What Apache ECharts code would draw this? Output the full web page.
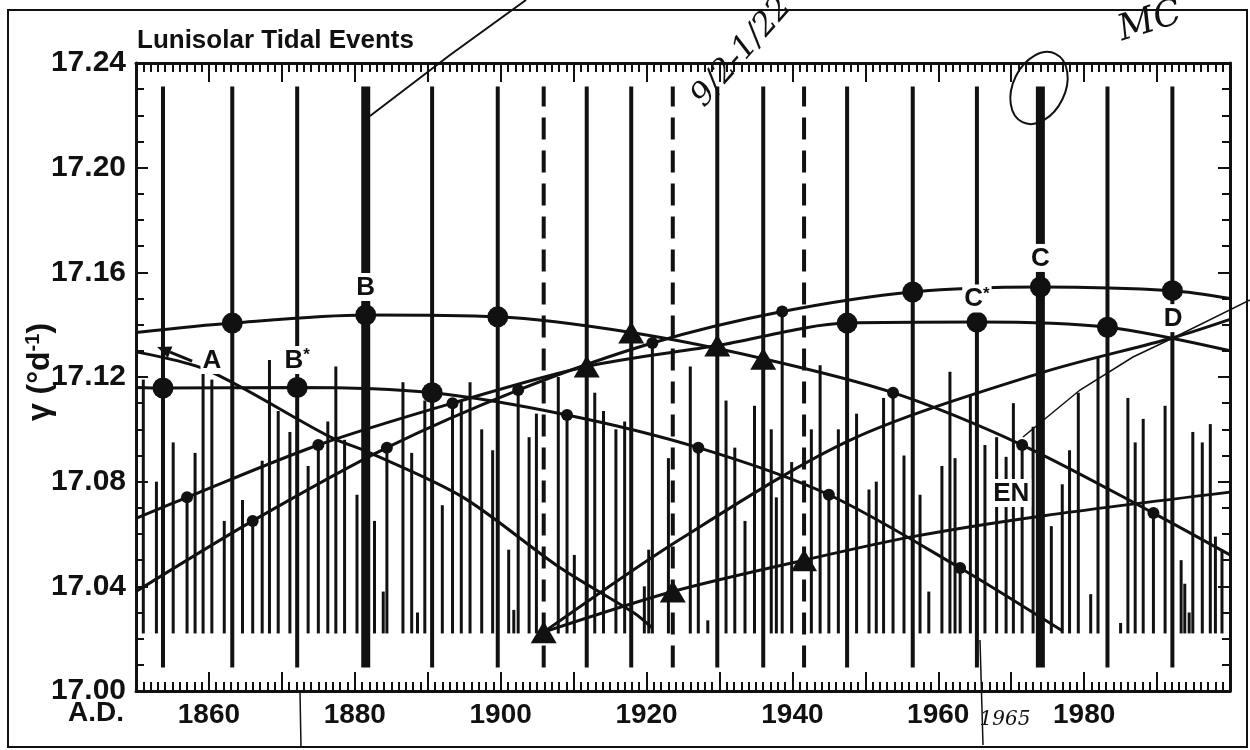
<!DOCTYPE html>
<html>
<head>
<meta charset="utf-8">
<title>Lunisolar Tidal Events</title>
<script src="https://cdn.jsdelivr.net/npm/echarts@6.0.0/dist/echarts.min.js"></script>
<style>
  html, body { margin: 0; padding: 0; background: #fff; }
  #chart { width: 1250px; height: 750px; }
</style>
</head>
<body>
<div id="chart"></div>
<script>
// ---- axis labelling -------------------------------------------------------
const yearLabels = [1860, 1880, 1900, 1920, 1940, 1960, 1980];

// ---- tidal events: [year A.D., gamma in deg/day] ---------------------------
// events of the comb (no symbol)
const combEvents = [
  [1851.0,17.119],[1852.8,17.080],[1855.1,17.095],[1858.1,17.091],[1859.2,17.122],
  [1860.4,17.119],[1862.1,17.065],[1864.6,17.073],[1867.3,17.088],[1868.3,17.1265],
  [1869.5,17.107],[1871.1,17.099],[1873.6,17.086],[1876.3,17.103],[1877.4,17.124],
  [1878.6,17.096],[1880.3,17.075],[1882.7,17.065],[1883.9,17.038],[1886.6,17.118],
  [1887.8,17.091],[1888.6,17.030],[1889.6,17.111],[1892.0,17.071],[1894.6,17.111],
  [1895.8,17.118],[1897.4,17.100],[1898.9,17.092],[1901.1,17.054],[1901.8,17.031],
  [1903.9,17.097],[1904.9,17.106],[1907.9,17.120],[1910.1,17.052],[1912.9,17.114],
  [1914.1,17.107],[1915.8,17.100],[1917.0,17.103],[1919.7,17.040],[1920.3,17.054],
  [1923.0,17.089],[1926.0,17.124],[1928.4,17.027],[1930.9,17.111],[1932.1,17.093],
  [1933.5,17.065],[1934.8,17.109],[1937.1,17.100],[1937.8,17.074],[1939.9,17.0875],
  [1942.6,17.100],[1943.8,17.1245],[1946.3,17.100],[1948.8,17.106],[1950.5,17.077],
  [1951.5,17.080],[1952.5,17.112],[1955.3,17.090],[1957.5,17.075],[1958.7,17.038],
  [1960.5,17.086],[1961.6,17.122],[1962.3,17.089],[1964.4,17.113],[1966.4,17.094],
  [1968.0,17.097],[1969.3,17.0895],[1970.3,17.110],[1973.0,17.101],[1975.5,17.063],
  [1977.0,17.079],[1978.0,17.092],[1979.2,17.114],[1980.9,17.037],[1981.9,17.1277],
  [1985.0,17.026],[1986.0,17.112],[1987.0,17.095],[1988.1,17.104],[1991.1,17.109],
  [1993.3,17.050],[1993.8,17.041],[1994.4,17.030],[1994.9,17.099],[1996.2,17.095],
  [1997.3,17.102],[1998.0,17.059],[1998.9,17.054]
];

// events marked with a small dot
const minorEvents = [
  [1857.0,17.074],[1875.0,17.094],[1893.4,17.110],
  [1866.0,17.065],[1884.4,17.093],[1902.4,17.115],[1920.8,17.133],[1938.6,17.145],
  [1909.1,17.1055],[1927.1,17.093],[1945.0,17.075],[1963.0,17.047],
  [1953.8,17.114],[1971.5,17.094],[1989.5,17.068]
];

// events marked with a large dot
const majorEvents = [
  [1853.7,17.1158],[1872.1,17.116],[1890.6,17.114],
  [1863.2,17.1406],[1881.5,17.1437],[1899.6,17.143],
  [1947.5,17.1406],[1965.3,17.141],[1983.2,17.139],
  [1956.5,17.1525],[1974.0,17.1544],[1992.1,17.153]
];

// events marked with a triangle
const triangleEvents = [
  [1917.9,17.137],[1936.0,17.127],
  [1911.8,17.124],[1929.7,17.132],
  [1905.9,17.0225],[1923.6,17.038],[1941.6,17.050]
];

// years whose event line is dashed, and the two strongest events
const dashedEventYears = [1905.9, 1923.6, 1941.6];
const strongEventYears = [1881.5, 1974.0];

// ---- 18-year sequences joining the events --------------------------------
const seqB     = [[1850,17.137],[1863.2,17.1406],[1881.5,17.1437],[1899.6,17.143],[1917.9,17.137],
                  [1936.0,17.127],[1953.8,17.114],[1971.5,17.094],[1989.5,17.068],[2000,17.052]];
const seqBstar = [[1850,17.116],[1853.7,17.1158],[1872.1,17.116],[1890.6,17.114],[1909.1,17.1055],
                  [1927.1,17.093],[1945.0,17.075],[1963.0,17.047],[1977.0,17.023]];
const seqA     = [[1850,17.1296],[1859.7,17.1227],[1876.6,17.0971],[1882.1,17.091],[1894.8,17.0741],
                  [1908.0,17.0474],[1918.3,17.0298],[1920.8,17.024]];
const seqClow  = [[1850,17.066],[1857.0,17.074],[1875.0,17.094],[1893.4,17.110],[1911.8,17.124],
                  [1929.7,17.132],[1947.5,17.1406],[1965.3,17.141],[1983.2,17.139],[2000,17.130]];
const seqCup   = [[1850,17.038],[1866.0,17.065],[1884.4,17.093],[1902.4,17.115],[1920.8,17.133],
                  [1938.6,17.145],[1956.5,17.1525],[1974.0,17.1544],[1992.1,17.153],[2000,17.150]];
const seqD     = [[1905.9,17.0225],[1924.6,17.058],[1948.0,17.096],[1974.0,17.1215],[1992.2,17.135],[2000,17.142]];
const seqE     = [[1905.9,17.0225],[1923.6,17.038],[1941.6,17.050],[1956.5,17.059],[1974.5,17.067],[2000,17.076]];

// event names
const eventNames = [
  [1860.4,17.1265,'A'], [1872.1,17.1265,'B*'], [1881.5,17.1544,'B'],
  [1965.3,17.1500,'C*'], [1974.0,17.1655,'C'], [1992.2,17.1425,'D'], [1970.0,17.0757,'EN']
];

// ---- drawing ---------------------------------------------------------------
const INK = '#111111';
const FONT = '"Liberation Sans", Arial, Helvetica, sans-serif';
const HAND = '"DejaVu Serif", serif';
const COMB_BASE = 17.022;
const LINE_BOTTOM = 17.009;
const LINE_TOP = 17.231;

const chart = echarts.init(document.getElementById('chart'), null, { renderer: 'canvas' });

function vLine(base, width, dash) {
  return function (params, api) {
    const x = api.value(0);
    const top = api.value(1);
    const a = api.coord([x, base]);
    const b = api.coord([x, top]);
    return {
      type: 'line',
      shape: { x1: a[0], y1: a[1], x2: b[0], y2: b[1] },
      style: { stroke: INK, lineWidth: width, lineDash: dash || null, lineCap: 'butt' }
    };
  };
}

const eventYears = majorEvents.concat(triangleEvents).map(d => d[0]);
const solidYears = eventYears.filter(y => dashedEventYears.indexOf(y) < 0 && strongEventYears.indexOf(y) < 0);

function curve(data) {
  return {
    type: 'line', data: data, smooth: 0.3, symbol: 'none', silent: true,
    lineStyle: { color: INK, width: 3, opacity: 1 }, z: 4
  };
}

function markers(data, symbol, size) {
  return {
    type: 'scatter', data: data, symbol: symbol, symbolSize: size, silent: true, z: 6,
    itemStyle: { color: INK, opacity: 1 }
  };
}

const xAxisBase = {
  type: 'value', min: 1850, max: 2000, interval: 10,
  axisLine: { show: true, onZero: false, lineStyle: { color: INK, width: 3 } },
  axisTick: { show: true, inside: true, length: 19, lineStyle: { color: INK, width: 2 } },
  minorTick: { show: true, splitNumber: 10, length: 9, lineStyle: { color: INK, width: 2 } },
  splitLine: { show: false }
};
const yAxisBase = {
  type: 'value', min: 17.00, max: 17.24, interval: 0.04,
  axisLine: { show: true, onZero: false, lineStyle: { color: INK, width: 3 } },
  axisTick: { show: true, inside: true, length: 12, lineStyle: { color: INK, width: 2 } },
  minorTick: { show: true, splitNumber: 4, length: 8, lineStyle: { color: INK, width: 2 } },
  splitLine: { show: false }
};

const option = {
  animation: false,
  backgroundColor: '#ffffff',
  grid: { left: 136, right: 20, top: 63, bottom: 59, containLabel: false },
  xAxis: [
    Object.assign({}, xAxisBase, {
      position: 'bottom',
      axisLabel: {
        margin: 10, color: INK, fontFamily: FONT, fontWeight: 'bold', fontSize: 28,
        formatter: v => (yearLabels.indexOf(Math.round(v)) >= 0 ? String(Math.round(v)) : '')
      }
    }),
    Object.assign({}, xAxisBase, { position: 'top', axisLabel: { show: false } })
  ],
  yAxis: [
    Object.assign({}, yAxisBase, {
      position: 'left',
      axisLabel: {
        margin: 10, color: INK, fontFamily: FONT, fontWeight: 'bold', fontSize: 30,
        formatter: v => v.toFixed(2)
      }
    }),
    Object.assign({}, yAxisBase, { position: 'right', axisLabel: { show: false } })
  ],
  series: [
    { type: 'custom', name: 'comb', data: combEvents.concat(minorEvents), renderItem: vLine(COMB_BASE, 3), silent: true, z: 1 },
    { type: 'custom', name: 'events', data: solidYears.map(y => [y, LINE_TOP]), renderItem: vLine(LINE_BOTTOM, 4), silent: true, z: 2 },
    { type: 'custom', name: 'dashed events', data: dashedEventYears.map(y => [y, LINE_TOP]), renderItem: vLine(LINE_BOTTOM, 4, [22, 11]), silent: true, z: 2 },
    { type: 'custom', name: 'strong events', data: strongEventYears.map(y => [y, LINE_TOP]), renderItem: vLine(LINE_BOTTOM, 9), silent: true, z: 2 },
    curve(seqB), curve(seqBstar), curve(seqA), curve(seqClow), curve(seqCup), curve(seqD), curve(seqE),
    markers(minorEvents, 'circle', 12),
    markers(majorEvents, 'circle', 21),
    markers(triangleEvents, 'triangle', [26, 22]),
    {
      type: 'scatter', data: eventNames, symbolSize: 1, silent: true, z: 8,
      itemStyle: { color: '#ffffff', opacity: 1 },
      label: {
        show: true, position: 'inside', opacity: 1,
        formatter: p => {
          const t = p.data[2];
          return t.indexOf('*') > 0 ? '{t|' + t[0] + '}{s|*}' : '{t|' + t + '}';
        },
        backgroundColor: '#ffffff', padding: [1, 2, 0, 2],
        rich: {
          t: { fontFamily: FONT, fontWeight: 'bold', fontSize: 26, color: INK, lineHeight: 27 },
          s: { fontFamily: FONT, fontWeight: 'bold', fontSize: 17, color: INK, lineHeight: 27, verticalAlign: 'top', padding: [0, 0, 8, 0] }
        }
      }
    }
  ],
  graphic: [
    { type: 'rect', shape: { x: 8, y: 10, width: 1239, height: 737 }, style: { fill: 'none', stroke: INK, lineWidth: 2 }, z: 0 },
    { type: 'text', x: 137, y: 41, style: { text: 'Lunisolar Tidal Events', font: 'bold 26px ' + FONT, fill: INK, textVerticalAlign: 'middle' }, z: 10 },
    { type: 'text', x: 124, y: 713, style: { text: 'A.D.', font: 'bold 28px ' + FONT, fill: INK, textAlign: 'right', textVerticalAlign: 'middle' }, z: 10 },
    {
      type: 'text', x: 40, y: 372, rotation: Math.PI / 2,
      style: {
        text: '{n|γ (°d}{s|-1}{n|)}', textAlign: 'center', textVerticalAlign: 'middle',
        rich: {
          n: { font: 'bold 32px ' + FONT, fill: INK, lineHeight: 34 },
          s: { font: 'bold 20px ' + FONT, fill: INK, lineHeight: 34, verticalAlign: 'top' }
        }
      }, z: 10
    },
    // pen notes on the printed figure
    { type: 'polyline', shape: { points: [[526, 0], [450, 55], [370, 116]] }, style: { stroke: INK, lineWidth: 2, fill: 'none' }, z: 9 },
    { type: 'ellipse', shape: { cx: 1039, cy: 88, rx: 26, ry: 38 }, rotation: -0.45, originX: 1039, originY: 88, style: { stroke: INK, lineWidth: 2, fill: 'none' }, z: 9 },
    { type: 'text', x: 742, y: 52, rotation: 0.85, style: { text: '9/2-1/22', font: 'italic 32px ' + HAND, fill: INK, textAlign: 'center', textVerticalAlign: 'middle' }, z: 9 },
    { type: 'text', x: 1150, y: 22, rotation: 0.3, style: { text: 'MC', font: 'italic 36px ' + HAND, fill: INK, textAlign: 'center', textVerticalAlign: 'middle' }, z: 9 },
    { type: 'polyline', shape: { points: [[1023, 437], [1080, 390], [1133, 357], [1173, 338], [1250, 300]] }, style: { stroke: INK, lineWidth: 1.5, fill: 'none' }, z: 9 },
    { type: 'line', shape: { x1: 300, y1: 692, x2: 301, y2: 748 }, style: { stroke: INK, lineWidth: 1.5 }, z: 9 },
    { type: 'line', shape: { x1: 980, y1: 640, x2: 983, y2: 745 }, style: { stroke: INK, lineWidth: 1.5 }, z: 9 },
    { type: 'text', x: 1005, y: 720, style: { text: '1965', font: 'italic 20px ' + HAND, fill: INK, textAlign: 'center', textVerticalAlign: 'middle' }, z: 9 }
  ]
};

chart.setOption(option);

// short arrow pointing at the start of sequence A
const tail = chart.convertToPixel({ xAxisIndex: 0, yAxisIndex: 0 }, [1857.7, 17.1261]);
const head = chart.convertToPixel({ xAxisIndex: 0, yAxisIndex: 0 }, [1852.9, 17.1315]);
const ang = Math.atan2(head[1] - tail[1], head[0] - tail[0]);
const hl = 14, hw = 6;
const bx = head[0] - hl * Math.cos(ang), by = head[1] - hl * Math.sin(ang);
chart.setOption({
  graphic: option.graphic.concat([
    { type: 'line', shape: { x1: tail[0], y1: tail[1], x2: bx, y2: by }, style: { stroke: INK, lineWidth: 3 }, z: 9 },
    { type: 'polygon', shape: { points: [head, [bx + hw * Math.sin(ang), by - hw * Math.cos(ang)], [bx - hw * Math.sin(ang), by + hw * Math.cos(ang)]] }, style: { fill: INK }, z: 9 }
  ])
});
</script>
</body>
</html>
